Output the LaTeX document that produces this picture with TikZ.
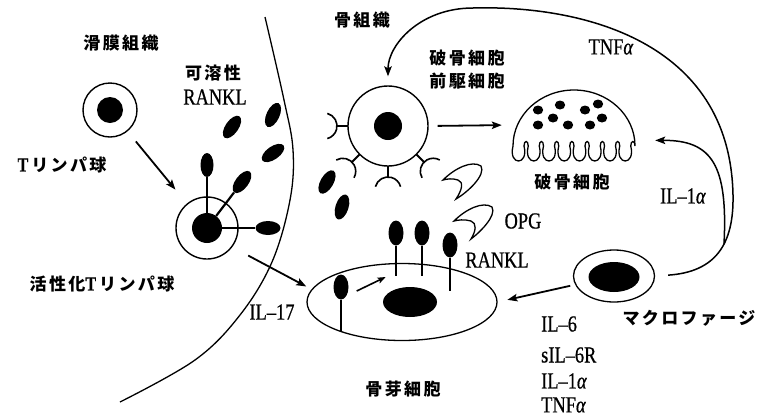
\documentclass[tikz,border=0pt]{standalone}
\usepackage{fontspec}
\setmainfont{Liberation Serif}[FakeStretch=0.8, FakeBold=0.6]
\newfontfamily\latinf{Liberation Serif}[FakeStretch=0.8, FakeBold=0.6]
\newfontfamily\jpfont{Noto Sans CJK JP}[LetterSpace=14]
\usetikzlibrary{arrows.meta,shapes.geometric,calc}
\newcommand\Tl{{\latinf\fontsize{20}{20}\selectfont T}\hspace{3pt}}

\begin{document}
\begin{tikzpicture}[x=1pt,y=-1pt,
  lab/.style={inner sep=0pt, font=\jpfont\bfseries\fontsize{17}{23}\selectfont},
  latin/.style={inner sep=0pt, font=\fontsize{23}{26}\selectfont},
  outline/.style={line width=1.3pt},
  cellring/.style={circle, draw, line width=1.4pt, inner sep=0pt},
  nucleus/.style={circle, fill, inner sep=0pt},
  blob/.style={ellipse, fill, inner sep=0pt},
  arr/.style={line width=1.8pt, -{Stealth[length=10pt,width=7.5pt,inset=2pt]}},
  stalk/.style={line width=2.2pt},
]
\useasboundingbox (0,0) rectangle (760,416);
\fill[white] (0,0) rectangle (760,416);

% boundary between synovium and bone
\draw[outline] plot[smooth, tension=0.6] coordinates
  {(265,17) (284,100) (293,150) (290,200) (272,262) (240,315) (195,360) (120,402)};

% T lymphocyte
\node[cellring, minimum size=54pt] (tcell) at (110,110) {};
\node[nucleus, minimum size=26pt] (tn) at (tcell) {};

% activated T lymphocyte with membrane RANKL
\node[cellring, minimum size=62pt] (atcell) at (207,228) {};
\node[nucleus, minimum size=30pt] (atn) at (atcell) {};
\node[blob, minimum width=13pt, minimum height=24pt] (ta1) at (207,165) {};
\node[blob, minimum width=26pt, minimum height=13pt, rotate=53] (ta2) at (242,182) {};
\node[blob, minimum width=25pt, minimum height=14pt] (ta3) at (268,228) {};
\draw[stalk] (atn) -- (ta1);
\draw[stalk] (atn) -- (ta2);
\draw[stalk] (atn) -- (ta3);

% soluble RANKL
\foreach \x/\y/\r in {232/127/55, 273/115/65, 273/153/35, 327/182/60, 342/207/72}
  \fill[rotate around={\r:(\x,\y)}] (\x,\y) ellipse [x radius=13, y radius=6.5];

% osteoclast precursor with RANK receptors
\node[cellring, minimum size=80pt] (pre) at (388,126) {};
\node[nucleus, minimum size=28pt] (pren) at (pre) {};
\foreach \a in {45,90,135,180} {
  \draw[line width=1.8pt] ($(pre)+(\a:40)$) -- ($(pre)+(\a:51)$);
  \draw[line width=1.6pt] ($(pre)+(\a:64)+(\a+105:13)$)
    arc[start angle=\a+105, end angle=\a+255, radius=13];
}

% osteoclast with ruffled border
\node[minimum width=124pt, minimum height=74pt, inner sep=0pt] (oc) at (575,125) {};
\draw[outline] (513,146)
  \foreach \i in {1,...,8} { .. controls +(-5,20) and +(5,20) .. ++(11,0)
                             .. controls +(0,-6) and +(0,-6) .. ++(4.25,0) }
  arc[start angle=0, end angle=-180, x radius=61, y radius=56] -- cycle;
\foreach \x/\y in {538/110, 560/105, 585/110, 598/104, 553/118, 602/118,
                   538/125, 568/125, 590/125}
  \fill (\x,\y) ellipse [x radius=5.2, y radius=4.5];

% OPG
\draw[outline] (443,180) .. controls (455,168) and (472,160) .. (481,166)
  .. controls (486,175) and (468,192) .. (456,199)
  .. controls (462,190) and (464,182) .. (458,180)
  .. controls (452,178) and (447,179) .. (443,180) -- cycle;
\begin{scope}[shift={(11,41)}]
\draw[outline] (443,180) .. controls (455,168) and (472,160) .. (481,166)
  .. controls (486,175) and (468,192) .. (460,198)
  .. controls (465,190) and (466,182) .. (460,180)
  .. controls (453,178) and (447,179) .. (443,180) -- cycle;
\end{scope}

% osteoblast
\node[ellipse, draw, outline, minimum width=190pt, minimum height=77pt, inner sep=0pt] (ob) at (402,302) {};
\node[blob, minimum width=54pt, minimum height=30pt] (obn) at (410,302) {};
\node[blob, minimum width=15pt, minimum height=25pt] (rk1) at (396,233) {};
\node[blob, minimum width=15pt, minimum height=25pt] (rk2) at (422,233) {};
\node[blob, minimum width=15pt, minimum height=25pt] (rk3) at (450,245) {};
\node[blob, minimum width=15pt, minimum height=25pt] (rk0) at (341,287) {};
\draw[stalk] (rk1.south) -- ++(0,30);
\draw[stalk] (rk2.south) -- ++(0,30);
\draw[stalk] (rk3.south) -- ++(0,33);
\draw[stalk] (rk0.south) -- ++(0,31);
\draw[line width=1.6pt, -{Stealth[length=8pt,width=6pt,inset=1.5pt]}]
  ($(rk0.east)+(8,4)$) -- ++(29,-14);

% macrophage
\node[ellipse, draw, outline, minimum width=81pt, minimum height=52pt, inner sep=0pt] (mac) at (614,276) {};
\node[blob, minimum width=51pt, minimum height=30pt] (macn) at (614,277) {};

% arrows
\draw[arr, shorten <=13pt, shorten >=18pt] (tcell) -- (atcell);
\draw[arr, shorten <=18pt, shorten >=6pt] (atcell.-37) -- (ob.172);
\draw[arr, shorten <=9pt, shorten >=11pt] (pre.east) -- (oc.west);
\draw[arr, shorten <=5pt, shorten >=10pt] (mac) -- (ob.east);
\draw[arr, line width=1.5pt, shorten <=13pt, shorten >=9pt] (mac.east)
  .. controls (715,272) and (734,245) .. (733,195)
  .. controls (730,40) and (580,5) .. (473,8)
  .. controls (420,8) and (388,45) .. (pre.north);
\coordinate (branch) at (724,244);
\draw[arr, line width=1.5pt, shorten >=18pt] (branch)
  .. controls (728,165) and (712,140) .. (oc.-14);

% labels
\node[lab] (l1) at (121,43) {滑膜組織};
\node[lab] (l2) at (213,73) {可溶性};
\node[latin] (l3) at (215,97) {RANKL};
\node[lab] (l4) at (62,165) {\Tl リンパ球};
\node[lab] (l5) at (102,284) {活性化\Tl リンパ球};
\node[lab] (l6) at (362,20) {骨組織};
\node[lab, align=center] (l7) at (467,70) {破骨細胞\\前駆細胞};
\node[latin] (l8) at (611,47) {TNF\textit{α}};
\node[lab] (l9) at (572,182) {破骨細胞};
\node[latin] (l10) at (683,196) {IL–1\textit{α}};
\node[latin] (l11) at (523,221) {OPG};
\node[latin] (l12) at (497,260) {RANKL};
\node[latin] (l13) at (272,312) {IL–17};
\node[lab] (l14) at (689,318) {マクロファージ};
\node[lab] (l15) at (403,389) {骨芽細胞};
\node[latin, anchor=west] (c1) at (541,324) {IL–6};
\node[latin, anchor=west] (c2) at (541,355) {sIL–6R};
\node[latin, anchor=west] (c3) at (541,381) {IL–1\textit{α}};
\node[latin, anchor=west] (c4) at (541,405) {TNF\textit{α}};
\end{tikzpicture}
\end{document}
